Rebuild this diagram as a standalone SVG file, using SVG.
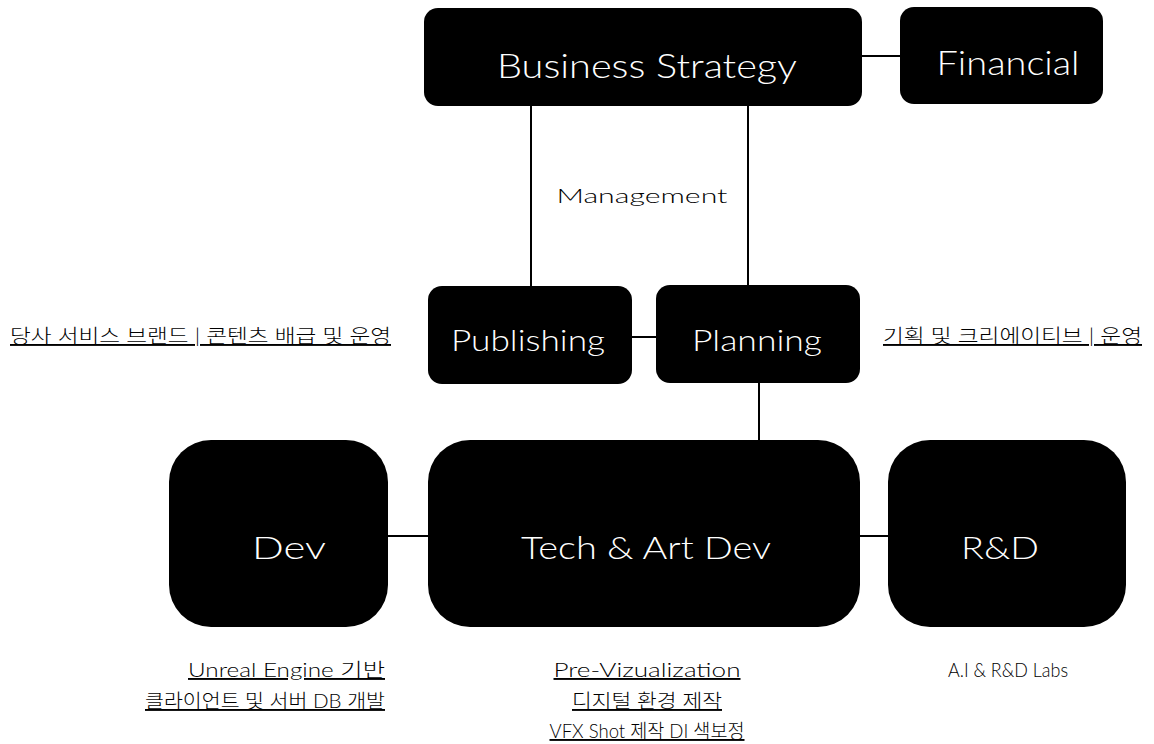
<svg xmlns="http://www.w3.org/2000/svg" width="1154" height="744" viewBox="0 0 1154 744">
<style>
.box{fill:#000}
.t{font-family:"Lato","Noto Sans CJK KR",sans-serif;fill:#fff;font-weight:300;text-anchor:middle}
.l{font-family:"Lato","Noto Sans CJK KR",sans-serif;fill:#000;font-size:19px;font-weight:300}
.u{text-decoration:underline}
.c{stroke:#000;stroke-width:2;fill:none}
</style>
<rect width="1154" height="744" fill="#fff"/>
<g id="connectors">
<line class="c" x1="862" y1="56" x2="900" y2="56"/>
<line class="c" x1="531" y1="106" x2="531" y2="287"/>
<line class="c" x1="748" y1="106" x2="748" y2="286"/>
<line class="c" x1="632" y1="337" x2="656" y2="337"/>
<line class="c" x1="759" y1="383" x2="759" y2="441"/>
<line class="c" x1="388" y1="536" x2="428" y2="536"/>
<line class="c" x1="860" y1="536" x2="888" y2="536"/>
</g>
<g id="business-strategy">
<rect class="box" x="424" y="8" width="438" height="98" rx="14"/>
<text class="t" x="647" y="78" font-size="34" textLength="300" lengthAdjust="spacingAndGlyphs">Business Strategy</text>
</g>
<g id="financial">
<rect class="box" x="900" y="7" width="203" height="97" rx="14"/>
<text class="t" x="1008" y="75" font-size="34" textLength="143" lengthAdjust="spacingAndGlyphs">Financial</text>
</g>
<g id="management">
<text class="l" x="642" y="203" font-size="23" text-anchor="middle" textLength="171" lengthAdjust="spacingAndGlyphs">Management</text>
</g>
<g id="publishing">
<rect class="box" x="428" y="286" width="204" height="98" rx="14"/>
<text class="t" x="528" y="351" font-size="30" textLength="154" lengthAdjust="spacingAndGlyphs">Publishing</text>
</g>
<g id="planning">
<rect class="box" x="656" y="285" width="204" height="98" rx="14"/>
<text class="t" x="757" y="351" font-size="30" textLength="130" lengthAdjust="spacingAndGlyphs">Planning</text>
</g>
<g id="dev">
<rect class="box" x="169" y="440" width="219" height="187" rx="42"/>
<text class="t" x="289" y="559" font-size="32" textLength="74" lengthAdjust="spacingAndGlyphs">Dev</text>
</g>
<g id="tech-art-dev">
<rect class="box" x="428" y="440" width="432" height="187" rx="42"/>
<text class="t" x="646" y="559" font-size="32" textLength="250" lengthAdjust="spacingAndGlyphs">Tech &amp; Art Dev</text>
</g>
<g id="rnd">
<rect class="box" x="888" y="440" width="238" height="187" rx="42"/>
<text class="t" x="1000" y="559" font-size="32" textLength="78" lengthAdjust="spacingAndGlyphs">R&amp;D</text>
</g>
<g id="labels">
<text class="l u" x="10" y="343" textLength="381" lengthAdjust="spacingAndGlyphs">당사 서비스 브랜드 | 콘텐츠 배급 및 운영</text>
<text class="l u" x="883" y="343" textLength="259" lengthAdjust="spacingAndGlyphs">기획 및 크리에이티브 | 운영</text>
<text class="l u" x="385" y="677" text-anchor="end" textLength="197" lengthAdjust="spacingAndGlyphs">Unreal Engine 기반</text>
<text class="l u" x="385" y="708" text-anchor="end" textLength="240" lengthAdjust="spacingAndGlyphs">클라이언트 및 서버 DB 개발</text>
<text class="l u" x="647" y="677" text-anchor="middle" textLength="187" lengthAdjust="spacingAndGlyphs">Pre-Vizualization</text>
<text class="l u" x="647" y="708" text-anchor="middle" textLength="150" lengthAdjust="spacingAndGlyphs">디지털 환경 제작</text>
<text class="l u" x="647" y="738" text-anchor="middle" textLength="195" lengthAdjust="spacingAndGlyphs">VFX Shot 제작  DI 색보정</text>
<text class="l" x="1008" y="677" text-anchor="middle" textLength="120" lengthAdjust="spacingAndGlyphs">A.I &amp; R&amp;D Labs</text>
</g>
</svg>
